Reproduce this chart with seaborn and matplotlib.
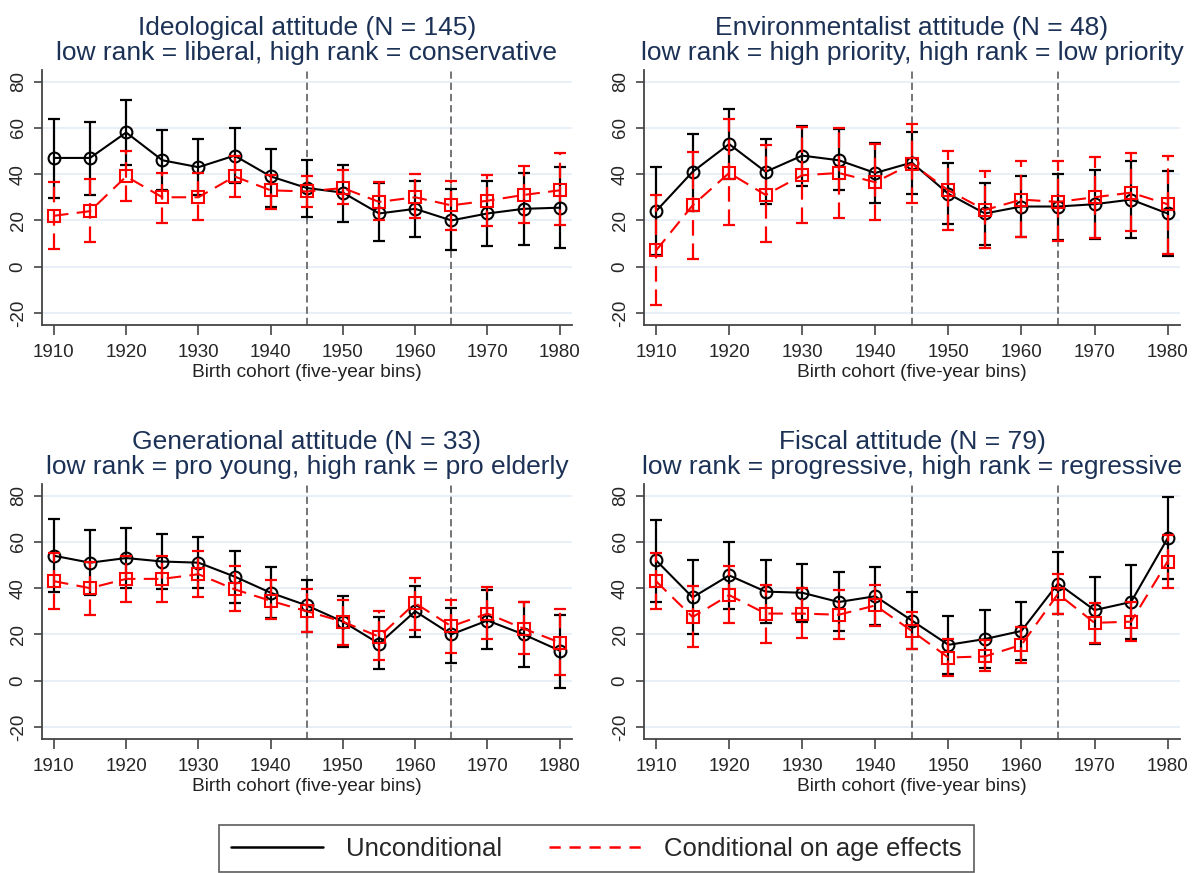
import numpy as np
import pandas as pd
import matplotlib
matplotlib.use("Agg")
import matplotlib.pyplot as plt
from matplotlib.lines import Line2D
import seaborn as sns

# data (rank estimates with 95% CIs)
cohorts = [1910, 1915, 1920, 1925, 1930, 1935, 1940, 1945, 1950, 1955, 1960, 1965, 1970, 1975, 1980]

ideo_unc = [47, 47, 58, 46, 43, 48, 39, 34, 32, 23, 25, 20, 23, 25, 25.5]
ideo_unc_lo = [29.5, 31, 44, 33, 31, 36, 26, 21.5, 19.5, 11, 13, 7, 9, 9.5, 8]
ideo_unc_hi = [64, 62.5, 72, 59, 55, 60, 51, 46, 44, 36, 37, 33.5, 37, 40.5, 43]
ideo_cond = [22, 24, 39, 30, 30, 39, 33, 32.5, 34, 28, 30, 26.5, 28.5, 31, 33]
ideo_cond_lo = [7.5, 10.5, 28.5, 19, 20, 30, 25, 26, 27, 20, 21, 16, 17.5, 19, 18]
ideo_cond_hi = [36.5, 38, 50, 40.5, 40.5, 48, 39.5, 39, 42, 36.5, 40, 37, 39.5, 43.5, 49]

env_unc = [24, 41, 53, 41, 48, 46, 40.5, 45, 31.5, 23, 26, 26, 27, 29, 23]
env_unc_lo = [5, 24, 38, 27, 35, 33, 27.5, 31.5, 18.5, 9.5, 13, 11.5, 12, 12.5, 4.5]
env_unc_hi = [43, 57.5, 68, 55, 61, 59.5, 53.5, 58, 45, 36, 39, 40, 42, 45.5, 41.5]
env_cond = [7, 26.5, 40.5, 31, 39.5, 40.5, 36.5, 44.5, 33, 24.5, 29, 28, 30, 32, 27]
env_cond_lo = [-16.5, 3.5, 18, 10.5, 19, 21, 20, 27.5, 16, 8, 13, 11, 12.5, 15.5, 5.5]
env_cond_hi = [31, 49.5, 64, 52.5, 60.5, 60, 53, 61.5, 50, 41.5, 45.5, 45.5, 47.5, 49, 48]

gen_unc = [54, 51, 53, 51.5, 51, 45, 38, 32.5, 25.5, 16, 30, 20, 26, 20, 13]
gen_unc_lo = [38.5, 37, 40, 39.5, 40, 33.5, 27, 21, 14.5, 5, 19, 7.5, 13.5, 6, -3]
gen_unc_hi = [70, 65, 66, 63.5, 62, 56, 49, 43.5, 36.5, 27.5, 41, 31.5, 39, 34, 28.5]
gen_cond = [43, 40, 44, 44, 46, 39.5, 34.5, 30, 25.5, 19, 33.5, 23.5, 29, 22.5, 16.5]
gen_cond_lo = [31, 28.5, 34, 34, 36, 30, 26.5, 21, 15.5, 9, 22, 12, 18, 11.5, 2.5]
gen_cond_hi = [55, 51.5, 54, 54, 56, 49.5, 43.5, 39.5, 35, 30, 44.5, 35, 40.5, 34, 31]

fisc_unc = [52, 36, 45.5, 38.5, 38, 34, 36.5, 26, 15.5, 18, 21.5, 42, 30.5, 34, 61.5]
fisc_unc_lo = [34, 20, 31, 25, 25.5, 21.5, 24, 13.5, 3, 5.5, 9, 29, 16, 18, 44]
fisc_unc_hi = [69.5, 52, 60, 52, 50.5, 47, 49, 38.5, 28, 30.5, 34, 55.5, 45, 50, 79.5]
fisc_cond = [43, 27.5, 37, 29, 29, 28.5, 32.5, 21.5, 10, 10.5, 15.5, 37.5, 25, 25.5, 51.5]
fisc_cond_lo = [31, 14.5, 25, 16.5, 18.5, 18, 23.5, 13.5, 2, 4, 7.5, 29, 16.5, 17, 40]
fisc_cond_hi = [55, 41, 49.5, 41.5, 40, 39, 41.5, 29.5, 18, 17.5, 23, 46, 33.5, 34, 63]

titles = [
    "Ideological attitude (N = 145)\nlow rank = liberal, high rank = conservative",
    "Environmentalist attitude (N = 48)\nlow rank = high priority, high rank = low priority",
    "Generational attitude (N = 33)\nlow rank = pro young, high rank = pro elderly",
    "Fiscal attitude (N = 79)\nlow rank = progressive, high rank = regressive",
]
panels = [
    (ideo_unc, ideo_unc_lo, ideo_unc_hi, ideo_cond, ideo_cond_lo, ideo_cond_hi),
    (env_unc, env_unc_lo, env_unc_hi, env_cond, env_cond_lo, env_cond_hi),
    (gen_unc, gen_unc_lo, gen_unc_hi, gen_cond, gen_cond_lo, gen_cond_hi),
    (fisc_unc, fisc_unc_lo, fisc_unc_hi, fisc_cond, fisc_cond_lo, fisc_cond_hi),
]
series_names = ["Unconditional", "Conditional on age effects"]
breaks = [1945, 1965]

sns.set_theme(style="white")
plt.rcParams["font.family"] = ["Liberation Sans", "DejaVu Sans"]

W, H = 1193, 873
fig = plt.figure(figsize=(W / 100, H / 100), dpi=100)

# axes boxes in pixels: left, right, top, bottom
boxes = [(42, 572, 70, 325), (644, 1180, 70, 325),
         (42, 572, 484, 739), (644, 1180, 484, 739)]

navy = "#1c3156"
red = "#ff0000"
dash = (7, 4)

for box, title, vals in zip(boxes, titles, panels):
    l, r, t, b = box
    ax = fig.add_axes([l / W, 1 - b / H, (r - l) / W, (b - t) / H])
    unc, unc_lo, unc_hi, cond, cond_lo, cond_hi = vals

    df = pd.DataFrame({
        "cohort": cohorts * 2,
        "rank": list(unc) + list(cond),
        "series": [series_names[0]] * len(cohorts) + [series_names[1]] * len(cohorts),
    })

    for yv in [-20, 0, 20, 40, 60, 80]:
        ax.axhline(yv, color="#e6eef6", lw=1.3, zorder=0)
    for xv in breaks:
        ax.axvline(xv, color="#6a6a6a", lw=1.3, linestyle=(0, (4, 2.2)), zorder=1)

    # black (unconditional) error bars
    ax.errorbar(cohorts, unc, yerr=[np.subtract(unc, unc_lo), np.subtract(unc_hi, unc)],
                fmt="none", ecolor="black", elinewidth=1.6, capsize=4.5, capthick=1.6, zorder=2)

    sns.lineplot(data=df[df["series"] == series_names[0]], x="cohort", y="rank", ax=ax,
                 color="black", lw=1.5, marker="o", markersize=8.5, markerfacecolor="none",
                 markeredgecolor="black", markeredgewidth=1.5, zorder=3, legend=False)

    # red (conditional) error bars, dashed
    eb = ax.errorbar(cohorts, cond, yerr=[np.subtract(cond, cond_lo), np.subtract(cond_hi, cond)],
                     fmt="none", ecolor=red, elinewidth=1.6, capsize=4.5, capthick=1.6, zorder=4)
    eb[2][0].set_linestyle((0, (7, 3.5)))

    sns.lineplot(data=df[df["series"] == series_names[1]], x="cohort", y="rank", ax=ax,
                 color=red, lw=1.5, marker="s", markersize=8, markerfacecolor="none",
                 markeredgecolor=red, markeredgewidth=1.5, linestyle=(0, dash), zorder=5, legend=False)

    ax.set_xlim(1908.35, 1981.7)
    ax.set_ylim(-25.2, 85)
    ax.set_xticks(list(range(1910, 1981, 10)))
    ax.set_yticks([-20, 0, 20, 40, 60, 80])
    ax.set_yticklabels(["-20", "0", "20", "40", "60", "80"], rotation=90, va="center")
    ax.tick_params(axis="x", length=7, width=1.2, color="#444444", labelsize=13.5, pad=7, direction="out", bottom=True)
    ax.tick_params(axis="y", length=6, width=1.2, color="#444444", labelsize=13.5, pad=5, direction="out", left=True)
    ax.set_xlabel("Birth cohort (five-year bins)", fontsize=13.8, labelpad=2, color="#222222")
    ax.set_ylabel("")
    ax.set_title(title, fontsize=19, color=navy, pad=7, linespacing=1.05)
    for side in ["top", "right"]:
        ax.spines[side].set_visible(False)
    for side in ["left", "bottom"]:
        ax.spines[side].set_color("#444444")
        ax.spines[side].set_linewidth(1.3)
    ax.grid(False)

handles = [Line2D([], [], color="black", lw=1.8),
           Line2D([], [], color=red, lw=1.8, linestyle=(0, (4.5, 3.5)))]
leg = fig.legend(handles, series_names, loc="upper center", bbox_to_anchor=(0.5, 1 - 825 / H),
                 ncol=2, fontsize=18.5, frameon=True, fancybox=False, handlelength=3.6,
                 handletextpad=0.9, columnspacing=1.8, borderpad=0.45, borderaxespad=0)
leg.get_frame().set_edgecolor("#333333")
leg.get_frame().set_linewidth(1.2)

fig.savefig("out.png", dpi=100)
